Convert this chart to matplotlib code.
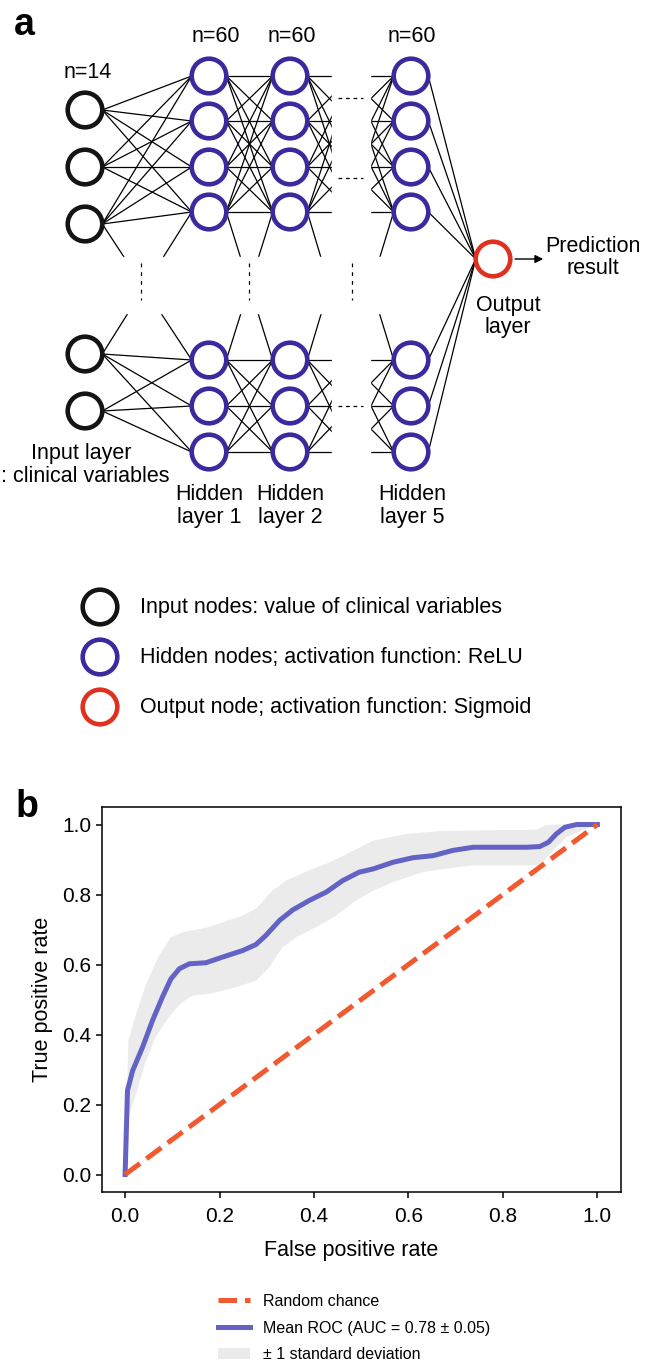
import matplotlib
matplotlib.use('Agg')
import matplotlib.pyplot as plt
from matplotlib.patches import Circle, Rectangle
import numpy as np

plt.rcParams['font.family'] = ['Liberation Sans', 'DejaVu Sans']

# ---- data: network layers ----
layer_sizes = ['n=14', 'n=60', 'n=60', 'n=60']
layer_names = [('Hidden', 'layer 1'), ('Hidden', 'layer 2'), ('Hidden', 'layer 5')]
node_legend = ['Input nodes: value of clinical variables',
               'Hidden nodes; activation function: ReLU',
               'Output node; activation function: Sigmoid']

# ---- data: ROC curves ----
fpr_mean = [0, 0.005, 0.016, 0.037, 0.058, 0.079, 0.097, 0.115, 0.136, 0.171, 0.206, 0.249,
            0.277, 0.298, 0.327, 0.355, 0.39, 0.426, 0.461, 0.496, 0.525, 0.567, 0.609,
            0.652, 0.694, 0.737, 0.793, 0.85, 0.878, 0.896, 0.913, 0.931, 0.956, 1.0]
tpr_mean = [0, 0.24, 0.297, 0.364, 0.44, 0.507, 0.559, 0.588, 0.602, 0.605, 0.621, 0.64,
            0.657, 0.683, 0.726, 0.756, 0.783, 0.807, 0.84, 0.864, 0.873, 0.892, 0.905,
            0.911, 0.926, 0.935, 0.935, 0.935, 0.937, 0.949, 0.973, 0.992, 1.0, 1.0]
fpr_upper = [0, 0.007, 0.021, 0.042, 0.07, 0.097, 0.122, 0.178, 0.249, 0.277, 0.312, 0.341,
             0.39, 0.426, 0.461, 0.525, 0.595, 0.666, 0.737, 0.871, 0.892, 0.913, 1.0]
tpr_upper = [0, 0.383, 0.449, 0.535, 0.621, 0.678, 0.692, 0.707, 0.74, 0.759, 0.811, 0.84,
             0.869, 0.888, 0.91, 0.954, 0.973, 0.981, 0.983, 0.985, 0.998, 1.0, 1.0]
fpr_lower = [0, 0.005, 0.021, 0.042, 0.064, 0.092, 0.117, 0.142, 0.178, 0.235, 0.277, 0.305,
             0.333, 0.362, 0.405, 0.447, 0.489, 0.525, 0.567, 0.63, 0.701, 0.737, 0.878,
             0.906, 0.935, 0.992, 1.0]
tpr_lower = [0, 0.154, 0.221, 0.316, 0.392, 0.449, 0.488, 0.511, 0.516, 0.535, 0.554, 0.592,
             0.649, 0.678, 0.707, 0.74, 0.783, 0.811, 0.835, 0.864, 0.878, 0.883, 0.883,
             0.926, 0.964, 0.997, 1.0]

W, H = 646, 1363
fig = plt.figure(figsize=(W / 100, H / 100), dpi=100)

# panel a drawn in pixel coordinates
ax = fig.add_axes([0, 0, 1, 1])
ax.set_xlim(0, W)
ax.set_ylim(H, 0)
ax.axis('off')

BLACK, BLUE, RED = '#141414', '#3b2a9e', '#e0311f'
r = 17.3          # ring radius (path centre)
ring_lw = 3.3     # points

in_top, in_bot = [110, 167, 224], [354, 411]
hid_top, hid_bot = [76, 121, 167, 212], [360, 406, 452]
x_in, x_h1, x_h2, x_h5, x_out = 85, 209, 290, 411, 493
x_va, x_vb = 369, 331   # virtual layers behind the horizontal gap
y_out = 259


def connect(xl, top_l, bot_l, xr, top_r, bot_r):
    segs = []
    for a, b in [(top_l, top_r), (bot_l, bot_r)]:
        for yl in a:
            for yr in b:
                segs.append(((xl + r, yl), (xr - r, yr)))
    segs.append(((xl + r, top_l[-1]), (xr - r, bot_r[0])))
    segs.append(((xl + r, bot_l[0]), (xr - r, top_r[-1])))
    return segs


segs = []
segs += connect(x_in, in_top, in_bot, x_h1, hid_top, hid_bot)
segs += connect(x_h1, hid_top, hid_bot, x_h2, hid_top, hid_bot)
segs += connect(x_h2, hid_top, hid_bot, x_va, hid_top, hid_bot)
segs += connect(x_vb, hid_top, hid_bot, x_h5, hid_top, hid_bot)
for yy in hid_top + hid_bot:
    segs.append(((x_h5 + r, yy), (x_out - r, y_out)))
for (p, q) in segs:
    ax.plot([p[0], q[0]], [p[1], q[1]], color='black', lw=0.9, zorder=1)

# gaps hiding the elided part of the network
ax.add_patch(Rectangle((95, 257), 298, 56, color='white', zorder=2))
ax.add_patch(Rectangle((332, 55), 38, 420, color='white', zorder=2))

for xx in [141, 249, 352]:
    ax.plot([xx, xx], [263, 300], color='black', lw=0.9, ls=(0, (3, 4)), zorder=3)
for yy in [98, 178, 406]:
    ax.plot([338, 363], [yy, yy], color='black', lw=0.9, ls=(0, (3, 3)), zorder=3)


def ring(x, y, c):
    ax.add_patch(Circle((x, y), r, facecolor='white', edgecolor=c, lw=ring_lw, zorder=4))


for yy in in_top + in_bot:
    ring(x_in, yy, BLACK)
for xx in [x_h1, x_h2, x_h5]:
    for yy in hid_top + hid_bot:
        ring(xx, yy, BLUE)
ring(x_out, y_out, RED)

ax.annotate('', xy=(546, y_out), xytext=(x_out + r + 2, y_out),
            arrowprops=dict(arrowstyle='-|>', color='black', lw=1.0, mutation_scale=12), zorder=5)

fs = 15.5
ax.text(14, 35, 'a', fontsize=27, fontweight='bold', ha='left', va='baseline')
ax.text(88, 72, layer_sizes[0], fontsize=fs, ha='center', va='center')
for xx, lab in zip([216, 292, 412], layer_sizes[1:]):
    ax.text(xx, 36, lab, fontsize=fs, ha='center', va='center')
ax.text(81, 454, 'Input layer', fontsize=fs, ha='center', va='center')
ax.text(1, 477, ': clinical variables', fontsize=fs, ha='left', va='center')
for xx, (l1, l2) in zip([209, 290, 412], layer_names):
    ax.text(xx, 495, l1, fontsize=fs, ha='center', va='center')
    ax.text(xx, 518, l2, fontsize=fs, ha='center', va='center')
ax.text(593, 246, 'Prediction', fontsize=fs, ha='center', va='center')
ax.text(593, 269, 'result', fontsize=fs, ha='center', va='center')
ax.text(508, 305, 'Output', fontsize=fs, ha='center', va='center')
ax.text(508, 328, 'layer', fontsize=fs, ha='center', va='center')

for yy, c, lab in zip([607, 657, 707], [BLACK, BLUE, RED], node_legend):
    ring(100, yy, c)
    ax.text(140, yy, lab, fontsize=fs, ha='left', va='center')

# ---- panel b: ROC ----
ax.text(16, 817, 'b', fontsize=27, fontweight='bold', ha='left', va='baseline')

axb = fig.add_axes([101.5 / W, 1 - 1192 / H, (621 - 101.5) / W, (1192 - 807) / H])
axb.fill(np.concatenate([fpr_upper, fpr_lower[::-1]]),
         np.concatenate([tpr_upper, tpr_lower[::-1]]),
         color='#ebebeb', lw=0, label='\u00b1 1 standard deviation', zorder=1)
axb.plot([0, 1], [0, 1], ls='--', color='#f15a30', lw=3.6, label='Random chance', zorder=3)
axb.plot(fpr_mean, tpr_mean, color='#6363c6', lw=3.6, solid_joinstyle='round',
         label='Mean ROC (AUC = 0.78 \u00b1 0.05)', zorder=2)
axb.set_xlim(-0.05, 1.05)
axb.set_ylim(-0.05, 1.05)
axb.set_xticks([0, 0.2, 0.4, 0.6, 0.8, 1.0])
axb.set_yticks([0, 0.2, 0.4, 0.6, 0.8, 1.0])
axb.tick_params(labelsize=15, length=4, width=1.1, direction='out')
axb.tick_params(axis='x', pad=7)
for sp in axb.spines.values():
    sp.set_linewidth(1.1)
axb.set_xlabel('False positive rate', fontsize=15.5, labelpad=9)
axb.set_ylabel('True positive rate', fontsize=15.5, labelpad=6)
axb.xaxis.set_label_coords(0.48, -0.125)

handles, labels = axb.get_legend_handles_labels()
order = [1, 2, 0]
fig.legend([handles[i] for i in order], [labels[i] for i in order],
           loc='upper left', bbox_to_anchor=(218 / W, 1 - 1294 / H),
           frameon=False, fontsize=11.5, borderpad=0, borderaxespad=0,
           handlelength=2.0, handletextpad=0.8, labelspacing=0.72)

fig.savefig('out.png', dpi=100)
